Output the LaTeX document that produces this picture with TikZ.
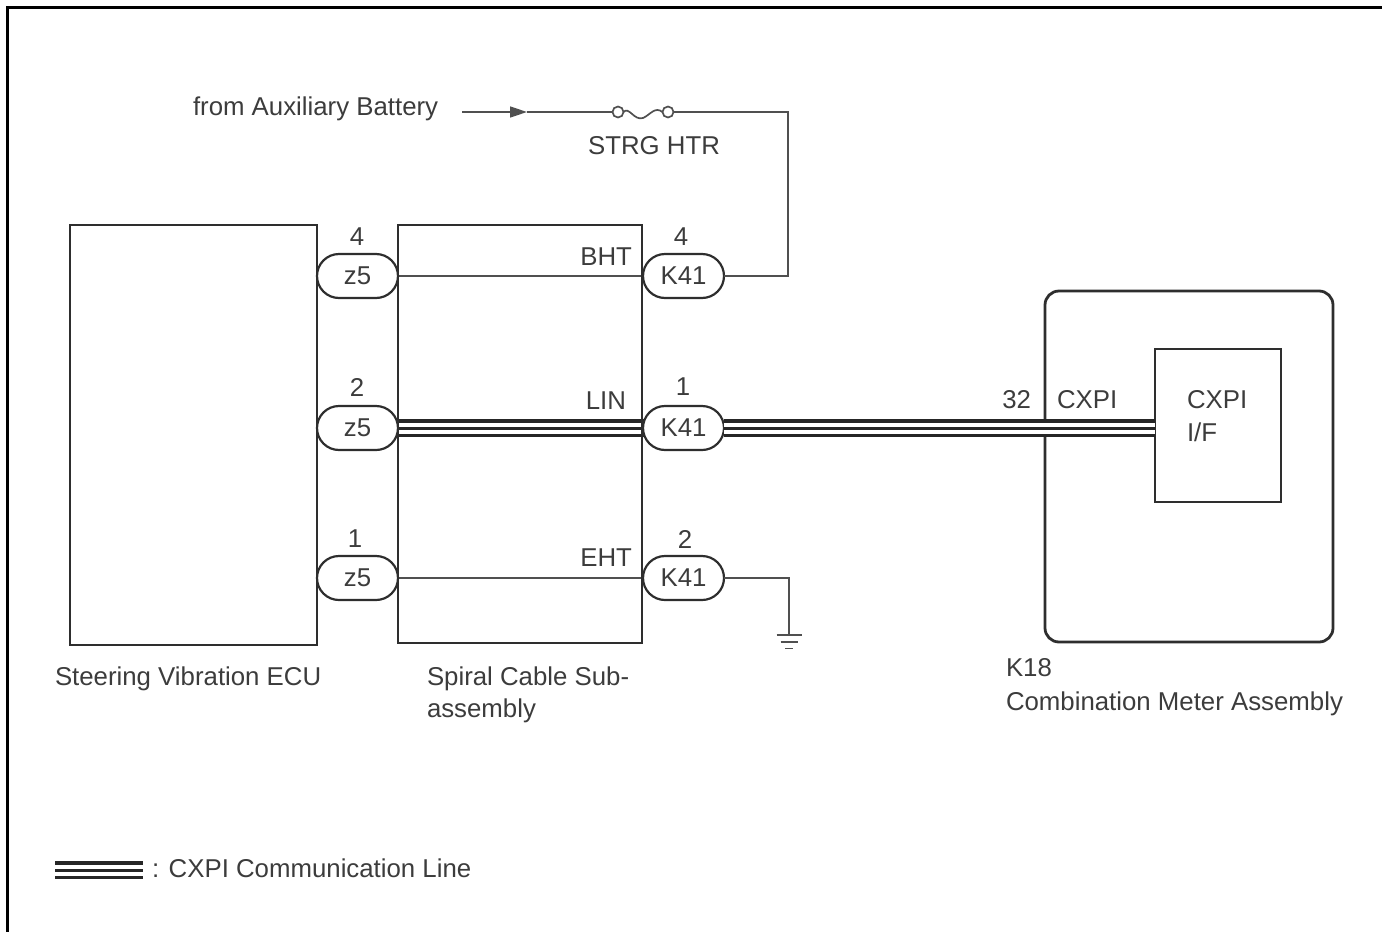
\documentclass[tikz,border=0pt]{standalone}
\usepackage{fontspec}
\setmainfont{Liberation Sans}
\usetikzlibrary{shapes.misc,arrows.meta}
\pgfdeclarelayer{background}
\pgfsetlayers{background,main}
\definecolor{ink}{HTML}{2E2E2E}
\definecolor{txt}{HTML}{3C3C3C}
\definecolor{wirec}{HTML}{505050}
\begin{document}
\begin{tikzpicture}[x=1pt,y=-1pt,
  lbl/.style={font=\fontsize{25.8}{30}\selectfont, text=txt, inner sep=0pt, outer sep=0pt},
  box/.style={draw=ink, line width=2.8pt, inner sep=0pt, outer sep=0pt},
  pill/.style={draw=ink, line width=2.2pt, rounded rectangle, minimum width=81pt, minimum height=44pt,
    inner sep=0pt, outer sep=0pt, fill=white, font=\fontsize{25.8}{30}\selectfont, text=txt},
  wire/.style={draw=wirec, line width=1.7pt},
  cxpi/.style={draw=black!85, line width=18pt, line cap=butt,
    postaction={draw=white, line width=11pt},
    postaction={draw=black!85, line width=3pt}},
]
\useasboundingbox (0,0) rectangle (1382,932);
% outer frame (top and left only)
\draw[line width=3pt, black] (7,932) -- (7,7) -- (1382,7);

% boxes
\node[box, minimum width=247pt, minimum height=420pt] (ecu) at (193.5,435) {};
\node[box, minimum width=244pt, minimum height=418pt] (spiral) at (520,434) {};
\node[box, rounded corners=14pt, minimum width=288pt, minimum height=351pt] (meter) at (1189,466.5) {};
\node[box, line width=2.4pt, minimum width=126pt, minimum height=153pt] (cxpiif) at (1218,425.5) {};

% connectors
\node[pill] (za) at (357.5,276) {z5};
\node[pill] (zb) at (357.5,428) {z5};
\node[pill] (zc) at (357.5,578) {z5};
\node[pill] (ka) at (683.5,276) {K41};
\node[pill] (kb) at (683.5,428) {K41};
\node[pill] (kc) at (683.5,578) {K41};

% pin numbers
\node[lbl, anchor=base] (pza) at (357,245) {4};
\node[lbl, anchor=base] (pzb) at (357,396) {2};
\node[lbl, anchor=base] (pzc) at (355,547) {1};
\node[lbl, anchor=base] (pka) at (681,245) {4};
\node[lbl, anchor=base] (pkb) at (683,395) {1};
\node[lbl, anchor=base] (pkc) at (685,548) {2};

% terminal names
\node[lbl, anchor=base east] (bht) at (632,265) {BHT};
\node[lbl, anchor=base east] (lin) at (626,409) {LIN};
\node[lbl, anchor=base east] (eht) at (632,566) {EHT};
\node[lbl, anchor=base east] (n32) at (1031,408) {32};
\node[lbl, anchor=base west] (cx1) at (1057,408) {CXPI};
\node[lbl, anchor=base west] (cx2) at (1187,408) {CXPI};
\node[lbl, anchor=base west] (cx3) at (1187,441) {I/F};

% component names
\node[lbl, anchor=base west] (necu) at (55,685) {Steering Vibration ECU};
\node[lbl, anchor=base west] (nsp1) at (427,685) {Spiral Cable Sub-};
\node[lbl, anchor=base west] (nsp2) at (427,717) {assembly};
\node[lbl, anchor=base west] (nk18) at (1006,676) {K18};
\node[lbl, anchor=base west] (nmet) at (1006,710) {Combination Meter Assembly};

% power supply
\node[lbl, anchor=base west] (batt) at (193,115) {from Auxiliary Battery};
\node[lbl, anchor=base] (fuse) at (654,154) {STRG HTR};
\coordinate (bstart) at (462,112);
\coordinate (barrow) at (527,112);
\coordinate (fl) at (618,112);
\coordinate (fr) at (668,112);
\coordinate (ctop) at (788,112);
\coordinate (gnd) at (789,635);

\begin{pgfonlayer}{background}
  \draw[wire] (za.center) -- (ka.center);
  \draw[wire] (zc.center) -- (kc.center);
  \draw[cxpi] (zb.center) -- (kb.center);
\end{pgfonlayer}

\draw[wire, -{Triangle[length=17pt,width=11pt]}] (bstart) -- (barrow);
\draw[wire] (barrow) -- ([xshift=-5.5pt]fl);
\draw[wire] (fl) circle[radius=5.5pt] (fr) circle[radius=5.5pt];
\draw[wire] ([xshift=5.5pt]fl) .. controls (629,106) and (634,121) .. (643,118)
   .. controls (650,115) and (655,106) .. ([xshift=-5.5pt]fr);
\draw[wire] ([xshift=5.5pt]fr) -- (ctop) |- (ka.east);
\draw[wire] (kc.east) -| (gnd);
\draw[wire] ([xshift=-12.5pt]gnd) -- ([xshift=12.5pt]gnd);
\draw[wire] ([xshift=-8.5pt,yshift=-7pt]gnd) -- ([xshift=8.5pt,yshift=-7pt]gnd);
\draw[wire] ([xshift=-4pt,yshift=-13.5pt]gnd) -- ([xshift=4pt,yshift=-13.5pt]gnd);

% CXPI line to meter
\draw[cxpi] (kb.east) -- (kb.east -| cxpiif.west);

% legend
\coordinate (lg1) at (55,870);
\coordinate (lg2) at (143,870);
\draw[cxpi] (lg1) -- (lg2);
\node[lbl, anchor=base west] (lgt) at (152,877) {: CXPI Communication Line};
\end{tikzpicture}
\end{document}
